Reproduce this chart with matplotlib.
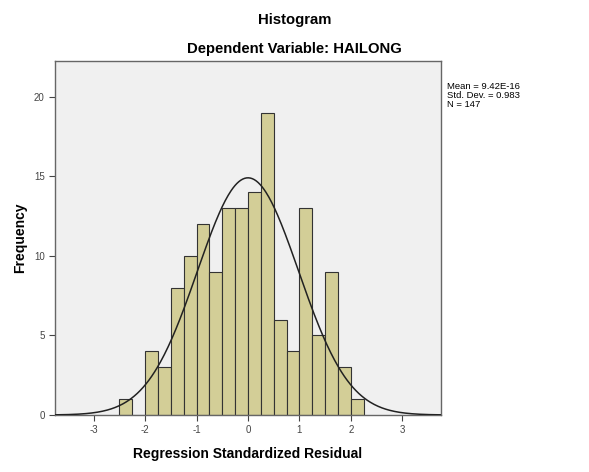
import numpy as np
import matplotlib
matplotlib.use("Agg")
import matplotlib.pyplot as plt

bin_edges = [-2.5, -2.25, -2.0, -1.75, -1.5, -1.25, -1.0, -0.75, -0.5, -0.25, 0.0,
             0.25, 0.5, 0.75, 1.0, 1.25, 1.5, 1.75, 2.0, 2.25]
counts = [1, 0, 4, 3, 8, 10, 12, 9, 13, 13, 14, 19, 6, 4, 13, 5, 9, 3, 1]
mean = 9.42e-16
std = 0.983
n = 147
xticks = [-3, -2, -1, 0, 1, 2, 3]
yticks = [0, 5, 10, 15, 20]

plt.rcParams['font.family'] = ['Liberation Sans', 'DejaVu Sans']

fig = plt.figure(figsize=(5.89, 4.72), dpi=100)
fig.patch.set_facecolor('white')
ax = fig.add_axes([55/589, 1-415/472, (441-55)/589, (415-61)/472])
ax.set_facecolor('#F0F0F0')

edges = np.array(bin_edges)
widths = np.diff(edges)
ax.bar(edges[:-1], counts, width=widths, align='edge', color='#D3CE97',
       edgecolor='#333333', linewidth=0.8, zorder=2)

bw = widths[0]
xs = np.linspace(-3.75, 3.75, 400)
ys = n * bw / (std * np.sqrt(2 * np.pi)) * np.exp(-0.5 * ((xs - mean) / std) ** 2)
ax.plot(xs, ys, color='#222222', linewidth=1.1, zorder=3)

ax.set_xlim(-3.75, 3.75)
ax.set_ylim(0, 22.26)
ax.set_xticks(xticks)
ax.set_yticks(yticks)
ax.set_xticklabels([str(t) for t in xticks])
ax.set_yticklabels([str(t) for t in yticks])
ax.tick_params(axis='both', labelsize=7, colors='#444444', length=4, width=0.8, direction='out')
ax.tick_params(top=False, right=False)
for s in ax.spines.values():
    s.set_color('#666666')
    s.set_linewidth(1.0)

ax.set_xlabel('Regression Standardized Residual', fontsize=10, fontweight='bold', labelpad=8)
fig.text(20/589, 1-238/472, 'Frequency', rotation=90, fontsize=10, fontweight='bold',
         ha='center', va='center')

fig.text(0.5, 1-20/472, 'Histogram', fontsize=10.7, fontweight='bold', ha='center', va='center')
fig.text(0.5, 1-49/472, 'Dependent Variable: HAILONG', fontsize=10.7, fontweight='bold',
         ha='center', va='center')

fig.text(447/589, 1-82/472, 'Mean = 9.42E-16\nStd. Dev. = 0.983\nN = 147', fontsize=6.8,
         ha='left', va='top', linespacing=1.0)

fig.savefig('out.png', dpi=100)
